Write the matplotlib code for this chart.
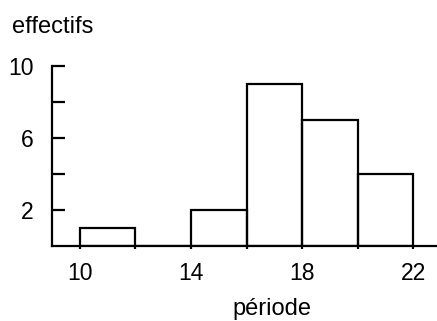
import matplotlib.pyplot as plt

plt.rcParams['font.family'] = ['Liberation Sans', 'DejaVu Sans']

# histogram data (bins of width 2)
bin_left = [10, 12, 14, 16, 18, 20]
counts = [1, 0, 2, 9, 7, 4]
bin_width = 2

xticks = [10, 12, 14, 16, 18, 20, 22]
xticklabels = ['10', '', '14', '', '18', '', '22']
yticks = [2, 4, 6, 8, 10]
yticklabels = ['2', '', '6', '', '10']

W, H = 437, 321
fig = plt.figure(figsize=(W/100, H/100), dpi=100)
ax = fig.add_axes([52/W, (H-246)/H, (W-52)/W, (246-66)/H])

ax.bar(bin_left, counts, width=bin_width, align='edge',
       fill=False, edgecolor='black', linewidth=1.6)

ax.set_xlim(9, 22.85)
ax.set_ylim(0, 10)

for s in ['top', 'right']:
    ax.spines[s].set_visible(False)
for s in ['left', 'bottom']:
    ax.spines[s].set_linewidth(1.6)

ax.set_xticks(xticks)
ax.set_xticklabels(xticklabels, fontsize=16.5)
ax.set_yticks(yticks)
ax.set_yticklabels(yticklabels, fontsize=16.5)
ax.tick_params(axis='y', direction='in', length=9, width=1.6, pad=13)
ax.tick_params(axis='x', direction='out', length=2.5, width=1.6, pad=9)

fig.text(12/W, 1-27/H, 'effectifs', fontsize=17, va='center', ha='left')
fig.text(272/W, 1-309/H, 'période', fontsize=17, va='center', ha='center')

fig.savefig('out.png', dpi=100)
